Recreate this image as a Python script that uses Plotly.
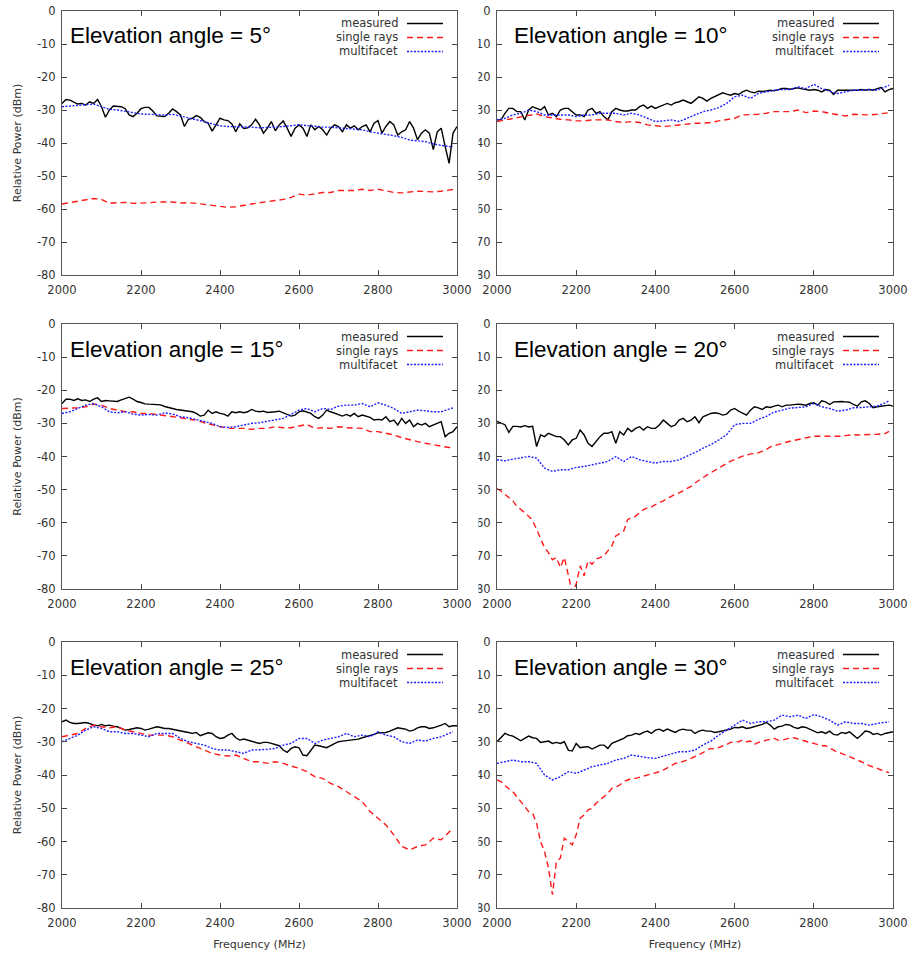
import plotly.graph_objects as go

W, H = 912, 955

# Frequency grids (MHz)
FREQ_MEAS = list(range(2000, 3001, 10))
FREQ_SIM = list(range(2000, 2981, 20)) + [2990]
FREQ_SIM_FINE = list(range(2000, 2991, 10))

X_TICKS = [2000, 2200, 2400, 2600, 2800, 3000]
Y_TICKS = [0, -10, -20, -30, -40, -50, -60, -70, -80]

SERIES_NAMES = ["measured", "single rays", "multifacet"]

# ---- Elevation 5 deg ----
MEAS_05 = [-28, -26.8, -27, -27.5, -28.2, -28, -28.5, -27.5, -28, -26.8,
           -29, -32.2, -30, -28.8, -29, -29, -29.6, -31.5, -32, -31,
           -29.6, -29.2, -29.2, -30.3, -31.8, -32, -32, -31, -29.7, -30.5,
           -31.5, -35, -32.8, -32.5, -31.7, -32.2, -33.5, -34, -36.4, -34.5,
           -32.5, -33, -33.2, -34.2, -36.6, -34.2, -35.6, -35.4, -34.5, -32.8,
           -34.5, -37, -35.5, -33.5, -36.3, -34.5, -33.3, -35.5, -38, -35.5,
           -34.5, -35.5, -38, -34.5, -36, -35, -36, -37.6, -35.5, -34.5,
           -35, -36.6, -34.5, -35.5, -34.8, -36, -35, -34.5, -36.6, -34,
           -33.2, -37, -35, -33.5, -34.5, -37.6, -36.6, -36, -33.5, -35.5,
           -39, -37, -36, -37, -42, -36.6, -35.5, -41, -46.2, -37,
           -35]
SINGLE_05 = [-58.5, -58.1, -57.5, -57.1, -56.8, -57.1, -58.3, -58.1, -58, -58.3,
             -58.3, -58.1, -57.9, -57.8, -57.9, -58.2, -58.1, -58.3, -58.6, -59,
             -59.3, -59.5, -59.3, -59, -58.5, -58.1, -57.8, -57.5, -57.1, -56.5,
             -55.5, -55.8, -55.3, -55, -55, -54.4, -54.4, -54.4, -54, -54.4,
             -54, -54.4, -55, -55.1, -54.8, -54.6, -54.7, -54.8, -54.6, -54.3,
             -54.1]
MULTI_05 = [-29, -28.8, -28.5, -28.5, -28.2, -29, -29.8, -30, -30.3, -30.8,
            -31.2, -31.3, -31.5, -31.5, -31.3, -31.8, -32.5, -32.8, -33.5, -34.2,
            -34.8, -35, -35, -35.2, -35.2, -35.4, -35.4, -35.2, -35, -34.8,
            -34.5, -34.7, -35, -35.2, -35.2, -35.5, -35.6, -35.8, -36, -36.6,
            -36.9, -37.4, -37.8, -38.3, -39.1, -39.4, -39.6, -40.3, -40.8, -41.1,
            -41.1]

# ---- Elevation 10 deg ----
MEAS_10 = [-33, -33, -31, -29.5, -29.5, -30.5, -30.5, -33, -30, -29,
           -29.5, -30, -29, -31.5, -31, -32, -30, -29.5, -29.5, -30.5,
           -31.5, -31.5, -32, -30, -29.5, -31, -30.5, -32, -33, -30.5,
           -29.5, -30, -30.3, -30.3, -30, -30, -29, -28.5, -29.5, -28.8,
           -29.5, -29, -28.5, -28, -28.5, -27.8, -27.5, -27, -27.5, -28,
           -27, -26, -26.5, -27.3, -26.5, -26, -25.5, -24.8, -25.2, -25.5,
           -25, -25.3, -24.5, -24, -24.5, -24.8, -24.3, -24.4, -24.2, -24,
           -24.2, -23.8, -23.5, -23.5, -23.7, -23.5, -23.3, -23.6, -23.8, -24,
           -23.8, -24, -24.5, -23.8, -24, -25.3, -24, -24, -24, -24.2,
           -24.2, -24, -23.8, -24, -23.8, -24, -23.5, -23.2, -24.5, -23.8,
           -23.5]
SINGLE_10 = [-33.5, -33, -32.5, -32, -31.5, -31.2, -32, -32.5, -32.8, -33,
             -33.3, -33.3, -33, -33, -33, -33.5, -33.8, -33.5, -33.8, -34.5,
             -34.8, -35, -34.8, -34.5, -34.3, -34, -34, -33.8, -33.3, -33,
             -32.5, -31.5, -31.5, -31.3, -31, -30.5, -30.5, -30.5, -30, -30.8,
             -30.3, -30.5, -31, -31.5, -31.8, -31.3, -31.5, -31.5, -31.3, -31,
             -30.8]
MULTI_10 = [-33, -32.5, -31.5, -31, -30, -30.5, -31.5, -31.5, -31.5, -31.5,
            -32, -31.5, -31.5, -31, -31, -31, -31.5, -31, -31.5, -32.5,
            -33.5, -33.3, -33, -33.5, -32.5, -31.5, -30.5, -30, -29.3, -28,
            -26, -25.5, -26.5, -25, -24.5, -24, -23.8, -23.8, -23, -23.5,
            -22.2, -23.5, -24.3, -25, -24.5, -24, -24, -23.8, -24, -23,
            -22.5]

# ---- Elevation 15 deg ----
MEAS_15 = [-24, -22.7, -22.7, -23.1, -22.6, -23.1, -22.9, -23.4, -22.7, -22.3,
           -23.4, -23.1, -23.2, -23.2, -23.4, -22.9, -22.4, -22.1, -22.7, -23.4,
           -23.7, -24.1, -24.2, -24.2, -24.4, -24.4, -24.9, -25.3, -25.5, -25.8,
           -26, -26.2, -26.2, -26.5, -27, -27.8, -27.5, -26, -27, -26.5,
           -27, -27.2, -27.8, -26.5, -26.8, -26.5, -26.8, -26.5, -25.8, -26.3,
           -26.5, -26.3, -26.7, -26.7, -26.5, -26.3, -26.8, -27.5, -27.8, -27.5,
           -26.5, -26.2, -26.5, -27, -28, -28.5, -27.5, -26, -26.5, -27,
           -27.5, -27.8, -27.3, -27.8, -27, -28, -27.5, -27.8, -28.2, -29,
           -28.8, -29, -28, -29.5, -29, -30.5, -28.5, -30, -29, -31,
           -30, -30.5, -30, -31, -30.5, -30.2, -29.5, -34, -33, -32.5,
           -31]
SINGLE_15 = [-25.5, -25.5, -25.3, -25, -24.2, -24.5, -25.5, -26, -26.5, -26.5,
             -27, -27, -27.3, -27.5, -27.8, -28.3, -28.8, -29, -29.8, -30.5,
             -31, -31.5, -31.5, -31.5, -31.8, -31.5, -31.5, -31, -31.3, -31.3,
             -30.8, -30.3, -31.5, -31.3, -31.5, -31, -31.3, -31.5, -31.5, -32.5,
             -32.5, -33, -33.5, -34.3, -35, -35.5, -36, -36.5, -37, -37.3,
             -37]
MULTI_15 = [-27, -26.5, -25.5, -24.5, -24, -25, -26.5, -26.8, -26.5, -27.2,
            -27.5, -27.3, -27.5, -26.8, -27.2, -28, -28.3, -28.8, -29.3, -30,
            -31, -31.2, -31, -30.5, -30, -29.8, -29.3, -29, -28.5, -27.3,
            -26, -25.5, -26.5, -25.5, -25.8, -24.8, -24.5, -24.5, -24, -25,
            -23.8, -24.5, -25.5, -27, -26.5, -26, -26.2, -26.5, -26.5, -25.8,
            -25.3]

# ---- Elevation 20 deg ----
MEAS_20 = [-29.4, -29.9, -30.4, -32.7, -30.9, -30.9, -31.1, -30.7, -31.1, -30.9,
           -37, -33.5, -34, -33, -33.5, -34, -34, -35, -36.5, -35,
           -34.5, -32, -33.5, -36, -37, -35.5, -34, -33, -33, -32.5,
           -36, -32.5, -33.5, -31.5, -32.5, -31.5, -31, -32, -31, -31.5,
           -31.5, -30.5, -29, -30, -31, -30.5, -29, -28.5, -29.5, -29,
           -28, -29.8, -28, -27.5, -27, -26.8, -27, -27.5, -27.2, -26,
           -25.5, -26.3, -27, -27.5, -26, -25, -25.3, -25.8, -25, -25.2,
           -24.8, -24.5, -25, -24.5, -24.5, -24.3, -24.2, -24.3, -24.5, -24,
           -23.8, -24.5, -23.2, -23.5, -24.3, -23.5, -23.4, -23.4, -23.5, -23.6,
           -24.3, -24.8, -23.5, -23.2, -24, -25.3, -25, -24.8, -24.5, -24.5,
           -24.8]
SINGLE_20 = [-49.7, -50.4, -51.4, -52.4, -53.4, -55, -55.9, -57, -58, -59.4,
             -62, -64.5, -67.5, -69, -71.2, -70.5, -73.5, -70.5, -76, -81,
             -78.5, -73, -76, -71.5, -72.5, -71, -70.5, -70, -68.5, -67,
             -64, -63.2, -62.5, -59, -58.5, -58, -57, -56, -55.5, -55.2,
             -54.5, -54, -53.4, -52.7, -52, -51.4, -51, -50.4, -49.7, -49,
             -48, -47.1, -46.4, -45.6, -44.9, -44.1, -43.4, -42.7, -41.9, -41.4,
             -40.9, -40.4, -39.9, -39.7, -39.2, -39.1, -38.9, -38.4, -37.9, -37.1,
             -36.7, -36.4, -35.9, -35.7, -35.4, -35.1, -34.9, -34.6, -34.4, -34.1,
             -33.9, -33.9, -33.9, -34, -34.1, -34.1, -34.1, -33.9, -33.7, -33.5,
             -33.4, -33.5, -33.5, -33.4, -33.4, -33.3, -33.3, -33.2, -33.1, -32.4]
MULTI_20 = [-41, -41.3, -40.8, -40.3, -40, -40.5, -43.5, -44.5, -44, -44,
            -43.3, -43, -42.5, -42.2, -41.5, -40, -41.5, -40, -41, -41.5,
            -42, -41.5, -41.5, -41, -40, -38.8, -37.5, -36.4, -35, -33.4,
            -30.4, -30, -30, -28.8, -27.9, -26.6, -26, -25.4, -25.2, -25,
            -24, -25, -25.5, -26.3, -26, -25.3, -25.2, -25, -24.8, -23.8,
            -23.2]

# ---- Elevation 25 deg ----
MEAS_25 = [-24, -23.5, -24.2, -24.5, -24.5, -24.3, -24.2, -24.5, -25, -25.2,
           -24.8, -25.2, -25, -25.3, -25.5, -26, -26.5, -26.3, -26, -25.8,
           -26, -26.5, -26.2, -25.8, -25.5, -25.7, -26, -26, -26.2, -26.5,
           -26.8, -27, -27.2, -27.5, -27.2, -28.2, -27.8, -27.3, -27.5, -28.5,
           -29, -28.8, -28, -27.5, -28.8, -29.5, -29.2, -29.5, -29.8, -30,
           -30.5, -30.2, -30.2, -30.5, -30.8, -31.2, -32.5, -33.2, -32, -31.5,
           -31.8, -34, -34.2, -32.5, -31, -31.2, -31.5, -31.8, -31.2, -30.5,
           -30, -29.8, -29.7, -29.5, -29.5, -29.2, -28.8, -28.5, -28.3, -27.8,
           -27.3, -27.2, -27.2, -26.8, -26.2, -25.8, -26, -26.2, -26.8, -26.5,
           -25.8, -25.5, -25.5, -26, -25.8, -25.5, -25, -24.5, -25.5, -25.2,
           -25.2]
SINGLE_25 = [-28.5, -28, -27.5, -26, -25, -25.5, -25.8, -25.5, -26.5, -27,
             -27.5, -28, -28, -28, -28.5, -29.5, -30.5, -31.5, -32.5, -33.5,
             -34, -34.3, -34, -35, -36, -36, -36.5, -36, -36.5, -37.3,
             -38, -39, -40.5, -41, -42.5, -43.5, -45, -46.5, -48, -51,
             -53, -55, -58, -61.5, -62.5, -61.5, -61, -59, -59.5, -57,
             -56]
MULTI_25 = [-30, -29, -28, -26.5, -25.5, -26, -27, -27, -27.5, -27.5,
            -28, -28.5, -27.5, -27.5, -27.5, -29, -30, -30.5, -31, -32,
            -32.5, -32.5, -33, -33.5, -32.5, -32.5, -32.3, -32, -31, -30.5,
            -29, -29, -30.5, -29.5, -29, -28.5, -27.5, -28.5, -28, -28.5,
            -27, -28, -28.5, -30, -30.5, -29.5, -29.8, -29, -28.5, -27.5,
            -27]

# ---- Elevation 30 deg ----
MEAS_30 = [-30, -28.8, -27.5, -28, -28.3, -29, -29.7, -29, -28.3, -28.8,
           -29, -30.2, -30, -29.8, -30.5, -30.2, -30.5, -30, -32.5, -32.8,
           -30.5, -31.8, -31.6, -31.5, -32.2, -31.5, -31, -31, -32, -30.5,
           -30, -29.5, -29, -28.2, -28, -27.5, -27.8, -27.2, -26.8, -27.5,
           -26.5, -26.2, -26.8, -26.2, -26.8, -27.2, -26.5, -26.2, -26.5, -26.5,
           -27.5, -26.8, -26.5, -26.8, -26.8, -27.2, -27, -26.8, -26.5, -26.2,
           -25.7, -25.8, -25.5, -26, -25.8, -25.5, -25, -24.8, -24.2, -25,
           -26.2, -25.5, -25.3, -24.8, -25, -25.7, -26, -25.5, -25.7, -26.2,
           -26.8, -27.3, -27, -27.5, -26.8, -27.8, -28, -27.2, -27.5, -27,
           -28, -29, -28, -26.8, -27, -27.8, -27.5, -28, -27.5, -27.2,
           -27]
SINGLE_30 = [-41.5, -42, -43.2, -44, -45, -46.5, -48, -49.5, -51, -51.5,
             -54.5, -60, -63, -68, -76, -66, -65, -59, -60, -61,
             -58, -53, -52, -50.5, -50, -48.5, -47.5, -46.5, -45.5, -44,
             -43.7, -43, -42, -41.5, -41, -41, -40.7, -40.3, -40, -39.7,
             -39.5, -39, -38.5, -37.8, -37, -36.5, -36.3, -36, -35.5, -35,
             -34.5, -33.8, -33.3, -32.5, -32, -32.2, -31.8, -31.2, -30.8, -30.2,
             -30.2, -30, -29.5, -30, -29.8, -30.8, -30.2, -30, -29.5, -29.2,
             -29, -29.5, -29.5, -29.2, -28.8, -28.8, -29.2, -29.5, -30, -30.2,
             -30.5, -30.8, -31.2, -31.2, -31.8, -32.5, -33.2, -33.5, -34, -34.3,
             -34.8, -35.5, -36, -36.5, -37.2, -37.5, -38, -38.5, -39, -39.3]
MULTI_30 = [-36.5, -36, -35.5, -36, -36, -36.5, -40, -41.5, -40.5, -39,
            -39.5, -38.5, -37.5, -37, -36.5, -35.5, -35, -34, -34.5, -34.8,
            -35, -34.3, -33.5, -33, -33, -32.5, -31, -29.8, -28, -26.5,
            -25, -23.5, -24.5, -24, -24, -23.5, -22, -22.5, -22, -23,
            -21.8, -22.5, -23.5, -25, -24, -24.5, -24.5, -25, -24.5, -24.3,
            -24]

# (angle, measured, single-ray x, single rays, multifacet)
PANELS = [
    (5, MEAS_05, FREQ_SIM, SINGLE_05, MULTI_05),
    (10, MEAS_10, FREQ_SIM, SINGLE_10, MULTI_10),
    (15, MEAS_15, FREQ_SIM, SINGLE_15, MULTI_15),
    (20, MEAS_20, FREQ_SIM_FINE, SINGLE_20, MULTI_20),
    (25, MEAS_25, FREQ_SIM, SINGLE_25, MULTI_25),
    (30, MEAS_30, FREQ_SIM_FINE, SINGLE_30, MULTI_30),
]

# Pixel boxes of the plot areas
COL_X = [(62, 457), (497, 893)]
ROW_Y = [(11, 275), (324, 589), (642, 908)]


def px(x):
    return x / W


def py(y):
    return 1 - y / H


STYLES = {
    "measured": dict(color="#000000", width=1.4, dash="solid"),
    "single rays": dict(color="#ff1a1a", width=1.4, dash="6px,4px"),
    "multifacet": dict(color="#1f1fff", width=1.4, dash="2px,1.5px"),
}

TICK_FONT = dict(family="DejaVu Sans", size=11.5, color="#333333")
LABEL_FONT = dict(family="DejaVu Sans", size=11, color="#333333")

fig = go.Figure()
shapes = []
annotations = []

for i, (angle, meas, f_single, single, multi) in enumerate(PANELS):
    r, c = divmod(i, 2)
    n = "" if i == 0 else str(i + 1)
    xa, ya = "x" + n, "y" + n
    x0, x1 = COL_X[c]
    y0, y1 = ROW_Y[r]

    for name, fx, vals in (("measured", FREQ_MEAS, meas),
                           ("single rays", f_single, single),
                           ("multifacet", FREQ_SIM, multi)):
        fig.add_trace(go.Scatter(
            x=fx, y=vals, mode="lines", name=name, showlegend=False,
            line=STYLES[name], xaxis=xa, yaxis=ya, hoverinfo="skip"))

    xaxis = dict(
        domain=[px(x0), px(x1)], anchor=ya, range=[2000, 3000],
        tickvals=X_TICKS, ticktext=[str(v) for v in X_TICKS],
        ticks="inside", ticklen=5, tickcolor="#444444",
        showline=True, linecolor="#555555", linewidth=1, mirror="ticks",
        showgrid=False, zeroline=False, tickfont=TICK_FONT,
        ticklabelstandoff=4, automargin=False,
    )
    yaxis = dict(
        domain=[py(y1), py(y0)], anchor=xa, range=[-80, 0],
        tickvals=Y_TICKS, ticktext=[str(v) for v in Y_TICKS],
        ticks="inside", ticklen=5, tickcolor="#444444",
        showline=True, linecolor="#555555", linewidth=1, mirror="ticks",
        showgrid=False, zeroline=False, tickfont=TICK_FONT,
        ticklabelstandoff=3, automargin=False,
    )
    if c == 0:
        yaxis["title"] = dict(text="Relative Power (dBm)", font=LABEL_FONT,
                              standoff=13)
    if r == 2:
        xaxis["title"] = dict(text="Frequency (MHz)", font=LABEL_FONT,
                              standoff=11)
    fig.update_layout(**{"xaxis" + n: xaxis, "yaxis" + n: yaxis})

    # Panel heading
    annotations.append(dict(
        text=f"Elevation angle = {angle}°", xref="paper", yref="paper",
        x=px(x0 + (6 if c == 0 else 15)), y=py(y0 + 25),
        xanchor="left", yanchor="middle", showarrow=False,
        font=dict(family="Liberation Sans", size=22.5, color="#000000")))

    # Key: label on the left, line sample on the right
    for k, name in enumerate(SERIES_NAMES):
        yk = y0 + 12.5 + 14 * k
        annotations.append(dict(
            text=name, xref="paper", yref="paper",
            x=px(x1 - 57), y=py(yk), xanchor="right", yanchor="middle",
            showarrow=False, font=dict(family="DejaVu Sans", size=11.5,
                                       color="#333333")))
        st = STYLES[name]
        shapes.append(dict(
            type="line", xref="paper", yref="paper",
            x0=px(x1 - 50), x1=px(x1 - 14), y0=py(yk), y1=py(yk),
            line=dict(color=st["color"], width=st["width"], dash=st["dash"]),
            layer="above"))

# White strips where the left column overlaps the right column's labels
for ya_, yb_ in ((0, 282), (300, 595), (616, 915)):
    shapes.append(dict(
        type="rect", xref="paper", yref="paper",
        x0=px(458.5), x1=px(478.5), y0=py(yb_), y1=py(ya_),
        fillcolor="white", line=dict(width=0), layer="above"))

fig.update_layout(
    width=W, height=H, autosize=False,
    margin=dict(l=0, r=0, t=0, b=0),
    paper_bgcolor="white", plot_bgcolor="white",
    shapes=shapes, annotations=annotations, showlegend=False,
)

fig.write_html("out.html")
